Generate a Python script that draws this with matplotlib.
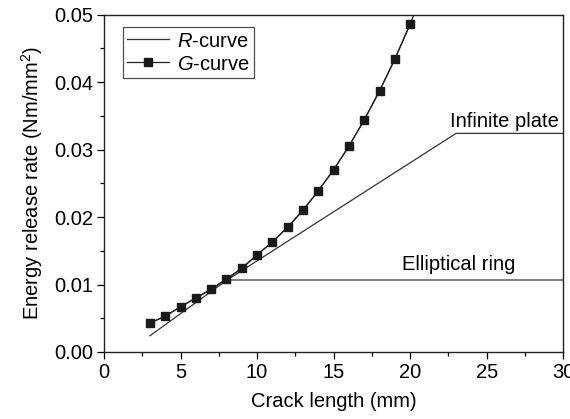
import matplotlib
matplotlib.use("Agg")
import matplotlib.pyplot as plt
from matplotlib.ticker import MultipleLocator, FormatStrFormatter
from matplotlib.lines import Line2D

plt.rcParams['font.family'] = ['Liberation Sans', 'DejaVu Sans']
plt.rcParams['mathtext.fontset'] = 'custom'
plt.rcParams['mathtext.rm'] = 'Liberation Sans'
plt.rcParams['mathtext.it'] = 'Liberation Sans:italic'

# G-curve data (markers)
g_x = [3, 4, 5, 6, 7, 8, 9, 10, 11, 12, 13, 14, 15, 16, 17, 18, 19, 20]
g_y = [0.0043, 0.0053, 0.0067, 0.0080, 0.0093, 0.0108, 0.0124, 0.0144, 0.0163,
       0.0185, 0.0210, 0.0239, 0.0270, 0.0305, 0.0344, 0.0387, 0.0434, 0.0486]
# line continues past last marker (clipped at the top)
g_line_x = g_x + [20.6]
g_line_y = g_y + [0.0520]

# R-curve (infinite plate)
r_x = [3, 8, 23, 30]
r_y = [0.0024, 0.0106, 0.0324, 0.0324]

# Elliptical ring branch
e_x = [8, 30]
e_y = [0.0107, 0.0107]

FS = 14.5

fig = plt.figure(figsize=(5.70, 4.19), dpi=100)
ax = fig.add_axes([0.1825, 0.160, 0.8055, 0.805])

ax.plot(r_x, r_y, color='#333333', lw=0.9)
ax.plot(e_x, e_y, color='#777777', lw=1.3)
ax.plot(g_line_x, g_line_y, color='#222222', lw=0.9)
ax.plot(g_x, g_y, color='#222222', lw=0.9, marker='s', ms=5.5,
        markerfacecolor='#1a1a1a', markeredgecolor='#1a1a1a')

h_r = Line2D([], [], color='#333333', lw=0.9)
h_g = Line2D([], [], color='#222222', lw=0.9, marker='s', ms=5.5,
             markerfacecolor='#1a1a1a', markeredgecolor='#1a1a1a')

ax.text(29.7, 0.0333, 'Infinite plate', ha='right', va='baseline', fontsize=FS)
ax.text(19.5, 0.01215, 'Elliptical ring', ha='left', va='baseline', fontsize=FS)

ax.set_xlim(0, 30)
ax.set_ylim(0, 0.05)
ax.xaxis.set_major_locator(MultipleLocator(5))
ax.xaxis.set_minor_locator(MultipleLocator(2.5))
ax.yaxis.set_major_locator(MultipleLocator(0.01))
ax.yaxis.set_minor_locator(MultipleLocator(0.005))
ax.yaxis.set_major_formatter(FormatStrFormatter('%.2f'))
ax.tick_params(which='major', direction='out', length=5, width=0.9, labelsize=FS,
               top=False, right=False, pad=3)
ax.tick_params(which='minor', direction='out', length=3, width=0.9,
               top=False, right=False)
for s in ax.spines.values():
    s.set_linewidth(1.0)
    s.set_color('#222222')

ax.set_xlabel('Crack length (mm)', fontsize=FS, labelpad=7)
ax.set_ylabel('Energy release rate (Nm/mm$^2$)', fontsize=FS, labelpad=6)

leg = ax.legend([h_r, h_g], ['$R$-curve', '$G$-curve'], loc='upper left',
                bbox_to_anchor=(0.041, 0.962), fontsize=FS, frameon=True,
                fancybox=False, edgecolor='#222222', handlelength=2.1,
                borderpad=0.2, labelspacing=0.2, handletextpad=0.4,
                borderaxespad=0)
leg.get_frame().set_linewidth(0.9)

fig.savefig('out.png', dpi=100)
